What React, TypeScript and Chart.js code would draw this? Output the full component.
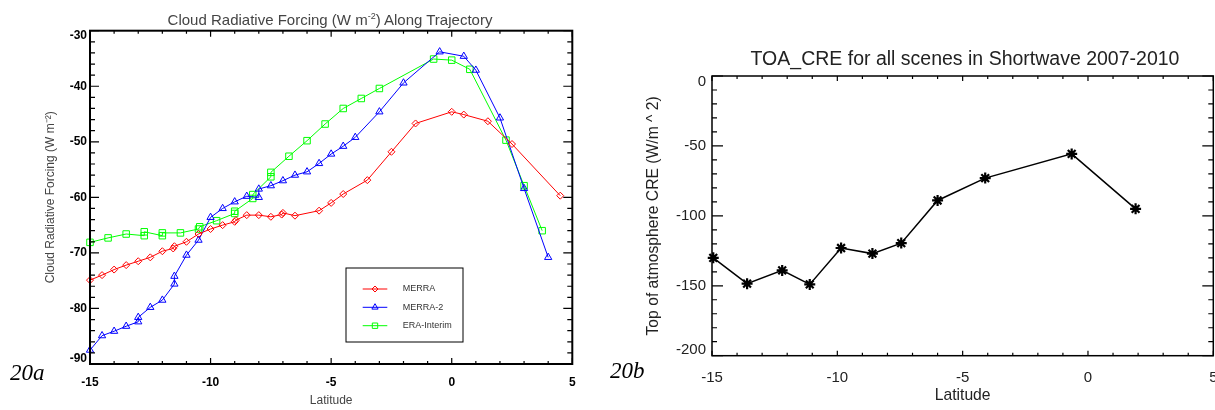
import React, { useEffect, useRef } from "react";
import { Chart, registerables } from "chart.js";
Chart.register(...registerables);

const SANS = '"Liberation Sans", Arial, Helvetica, sans-serif';
const SERIF = '"Liberation Serif", "Times New Roman", serif';

// ---------- Panel 20a : Cloud Radiative Forcing along trajectory ----------
const merraLat = [-15, -14.5, -14, -13.5, -13, -12.5, -12, -11.55, -11.5, -11, -10.5, -10, -9.5, -9, -8.95, -8.5, -8, -7.5, -7.05, -7, -6.5, -5.5, -5, -4.5, -3.5, -2.5, -1.5, 0, 0.5, 1.5, 2.5, 4.5];
const merraVal = [-74.9, -74.0, -73.0, -72.2, -71.5, -70.8, -69.7, -69.2, -68.8, -68.0, -66.6, -65.7, -65.0, -64.4, -64.1, -63.2, -63.2, -63.5, -63.1, -62.8, -63.3, -62.4, -61.0, -59.4, -56.9, -51.8, -46.7, -44.6, -45.1, -46.3, -50.4, -59.7];

const merra2Lat = [-15, -14.5, -14, -13.5, -13, -13, -12.5, -12, -11.5, -11.5, -11, -10.5, -10, -9.5, -9, -8.5, -8, -8, -7.5, -7, -6.5, -6, -5.5, -5, -4.5, -4, -3, -2, -0.5, 0.5, 1, 2, 3, 4];
const merra2Val = [-87.5, -84.9, -84.1, -83.2, -82.4, -81.6, -79.8, -78.5, -75.6, -74.2, -70.4, -67.7, -63.6, -62.0, -60.8, -59.8, -60.0, -58.5, -57.9, -57.0, -56.0, -55.4, -53.9, -52.2, -50.8, -49.2, -44.6, -39.4, -33.8, -34.6, -37.1, -45.7, -58.4, -70.8];

const eraLat = [-15, -14.25, -13.5, -12.75, -12.75, -12, -12, -11.25, -10.5, -10.45, -9.75, -9, -9, -8.25, -8.25, -7.5, -7.5, -6.75, -6, -5.25, -4.5, -3.75, -3, -0.75, 0, 0.75, 2.25, 3, 3.75];
const eraVal = [-68.1, -67.3, -66.6, -66.9, -66.2, -66.9, -66.4, -66.4, -65.7, -65.3, -64.2, -62.9, -62.5, -60.2, -59.5, -56.3, -55.5, -52.6, -49.8, -46.8, -44.0, -42.2, -40.4, -35.1, -35.3, -36.95, -49.7, -57.9, -66.0];

const leftXTicks = [-15, -10, -5, 0, 5];
const leftYTicks = [-90, -80, -70, -60, -50, -40, -30];

// ---------- Panel 20b : TOA CRE shortwave ----------
const toaLat = [-14.95, -13.6, -12.2, -11.1, -9.85, -8.6, -7.45, -6.0, -4.1, -0.65, 1.9];
const toaCre = [-130, -148.5, -139, -149, -123, -127, -119.5, -89, -73, -55.7, -95];

const rightXTicks = [-15, -10, -5, 0, 5];
const rightYTicks = [-200, -150, -100, -50, 0];

const pts = (xs: number[], ys: number[]) => xs.map((x, i) => ({ x, y: ys[i] }));

// IDL keeps the end labels of a vertical axis inside the axis range
const endLabel = (min: number, max: number) => (value: number) => {
  const t = String(value);
  if (value === max) return ["", t];
  if (value === min) return [t, ""];
  return t;
};

function markerPath(ctx: CanvasRenderingContext2D, style: string, x: number, y: number, r: number) {
  ctx.beginPath();
  if (style === "rectRot") {
    ctx.moveTo(x - r, y);
    ctx.lineTo(x, y - r);
    ctx.lineTo(x + r, y);
    ctx.lineTo(x, y + r);
    ctx.closePath();
  } else if (style === "triangle") {
    ctx.moveTo(x, y - r);
    ctx.lineTo(x + r * 0.866, y + r * 0.5);
    ctx.lineTo(x - r * 0.866, y + r * 0.5);
    ctx.closePath();
  } else {
    ctx.rect(x - r, y - r, 2 * r, 2 * r);
  }
}

const idlFrame = {
  id: "idlFrame",
  afterDatasetsDraw(chart: any, _args: any, o: any) {
    const { ctx, chartArea: a } = chart;
    const xs = chart.scales.x;
    const ys = chart.scales.y;
    ctx.save();
    ctx.strokeStyle = "#000";
    ctx.lineWidth = o.tickWidth;
    ctx.beginPath();
    const nx = Math.round((xs.max - xs.min) / o.xMinor);
    for (let i = 0; i <= nx; i++) {
      const v = xs.min + i * o.xMinor;
      const major = Math.abs(v / o.xMajor - Math.round(v / o.xMajor)) < 1e-6;
      const len = major ? o.xMajorLen : o.xMinorLen;
      const p = xs.getPixelForValue(v);
      ctx.moveTo(p, a.bottom);
      ctx.lineTo(p, a.bottom - len);
      ctx.moveTo(p, a.top);
      ctx.lineTo(p, a.top + len);
    }
    const ny = Math.round((ys.max - ys.min) / o.yMinor);
    for (let i = 0; i <= ny; i++) {
      const v = ys.min + i * o.yMinor;
      const major = Math.abs(v / o.yMajor - Math.round(v / o.yMajor)) < 1e-6;
      const len = major ? o.yMajorLen : o.yMinorLen;
      const p = ys.getPixelForValue(v);
      ctx.moveTo(a.left, p);
      ctx.lineTo(a.left + len, p);
      ctx.moveTo(a.right, p);
      ctx.lineTo(a.right - len, p);
    }
    ctx.stroke();
    ctx.lineWidth = o.frameWidth;
    ctx.strokeRect(a.left, a.top, a.right - a.left, a.bottom - a.top);

    if (o.legend) {
      const L = o.legend;
      ctx.lineWidth = 1;
      ctx.strokeStyle = "#000";
      ctx.strokeRect(L.x, L.y, L.w, L.h);
      chart.data.datasets.forEach((ds: any, i: number) => {
        const yy = L.rowY[i];
        ctx.strokeStyle = ds.borderColor;
        ctx.lineWidth = 1;
        ctx.beginPath();
        ctx.moveTo(L.lineX0, yy);
        ctx.lineTo(L.lineX1, yy);
        ctx.stroke();
        markerPath(ctx, ds.pointStyle, (L.lineX0 + L.lineX1) / 2, yy, L.r[i]);
        ctx.stroke();
        ctx.fillStyle = L.color;
        ctx.font = L.font;
        ctx.textBaseline = "middle";
        ctx.textAlign = "left";
        ctx.fillText(ds.label, L.textX, yy);
      });
    }
    ctx.restore();
  },
};

function makeLeftConfig(): any {
  return {
    type: "scatter",
    data: {
      datasets: [
        {
          label: "MERRA",
          data: pts(merraLat, merraVal),
          showLine: true,
          borderColor: "#ff0000",
          borderWidth: 1,
          pointStyle: "rectRot",
          pointRadius: 3.5,
          pointBorderWidth: 1,
          pointBorderColor: "#ff0000",
          pointBackgroundColor: "rgba(0,0,0,0)",
          clip: false,
        },
        {
          label: "MERRA-2",
          data: pts(merra2Lat, merra2Val),
          showLine: true,
          borderColor: "#0000ff",
          borderWidth: 1,
          pointStyle: "triangle",
          pointRadius: 4.2,
          pointBorderWidth: 1,
          pointBorderColor: "#0000ff",
          pointBackgroundColor: "rgba(0,0,0,0)",
          clip: false,
        },
        {
          label: "ERA-Interim",
          data: pts(eraLat, eraVal),
          showLine: true,
          borderColor: "#00ff00",
          borderWidth: 1,
          pointStyle: "rect",
          pointRadius: 4.6,
          pointBorderWidth: 1,
          pointBorderColor: "#00ff00",
          pointBackgroundColor: "rgba(0,0,0,0)",
          clip: false,
        },
      ],
    },
    options: {
      responsive: false,
      animation: false,
      events: [],
      layout: { padding: { left: 0, top: 30.7, right: 27.7, bottom: 0 } },
      plugins: {
        legend: { display: false },
        tooltip: { enabled: false },
        title: { display: false },
        idlFrame: {
          tickWidth: 1.2,
          frameWidth: 2,
          xMajor: 5, xMinor: 1, xMajorLen: 6, xMinorLen: 3,
          yMajor: 10, yMinor: 2, yMajorLen: 9, yMinorLen: 5,
          legend: {
            x: 346, y: 268, w: 117, h: 74,
            rowY: [289, 307.3, 325.7],
            lineX0: 362.7, lineX1: 387.3,
            r: [3, 3.6, 2.7],
            textX: 402.7,
            font: `9px ${SANS}`,
            color: "#333",
          },
        },
      },
      scales: {
        x: {
          type: "linear",
          min: -15,
          max: 5,
          afterBuildTicks: (s: any) => { s.ticks = leftXTicks.map((v) => ({ value: v })); },
          afterFit: (s: any) => { s.height = 46; },
          grid: { display: false, drawTicks: false },
          border: { display: false },
          ticks: { color: "#000", font: { family: SANS, size: 12, weight: "bold" }, padding: 11.5, maxRotation: 0 },
          title: { display: true, text: "Latitude", color: "#444", font: { family: SANS, size: 12 }, padding: { top: 0, bottom: 2 } },
        },
        y: {
          type: "linear",
          min: -90,
          max: -30,
          afterBuildTicks: (s: any) => { s.ticks = leftYTicks.map((v) => ({ value: v })); },
          afterFit: (s: any) => { s.width = 90; },
          grid: { display: false, drawTicks: false },
          border: { display: false },
          ticks: {
            color: "#000",
            font: { family: SANS, size: 12, weight: "bold", lineHeight: 0.85 },
            padding: 3,
            callback: endLabel(-90, -30),
          },
          title: { display: true, text: "Cloud Radiative Forcing (W m\u207B\u00B2)", color: "#444", font: { family: SANS, size: 12 }, padding: { top: 43, bottom: 0 } },
        },
      },
    },
    plugins: [idlFrame],
  };
}

function makeRightConfig(): any {
  return {
    type: "scatter",
    data: {
      datasets: [
        {
          label: "TOA_CRE",
          data: pts(toaLat, toaCre),
          showLine: true,
          borderColor: "#000",
          borderWidth: 1.5,
          pointStyle: "star",
          pointRadius: 5.5,
          pointBorderWidth: 2.2,
          pointBorderColor: "#000",
          pointBackgroundColor: "#000",
          clip: false,
        },
      ],
    },
    options: {
      responsive: false,
      animation: false,
      events: [],
      layout: { padding: { left: 0, top: 76, right: 26.7, bottom: 0 } },
      plugins: {
        legend: { display: false },
        tooltip: { enabled: false },
        title: { display: false },
        idlFrame: {
          tickWidth: 1.2,
          frameWidth: 1.5,
          xMajor: 5, xMinor: 1, xMajorLen: 5, xMinorLen: 3,
          yMajor: 50, yMinor: 10, yMajorLen: 11, yMinorLen: 5,
        },
      },
      scales: {
        x: {
          type: "linear",
          min: -15,
          max: 5,
          afterBuildTicks: (s: any) => { s.ticks = rightXTicks.map((v) => ({ value: v })); },
          afterFit: (s: any) => { s.height = 54.3; },
          grid: { display: false, drawTicks: false },
          border: { display: false },
          ticks: { color: "#222", font: { family: SANS, size: 15 }, padding: 13.6, maxRotation: 0 },
          title: { display: true, text: "Latitude", color: "#222", font: { family: SANS, size: 15.7 }, padding: { top: 0, bottom: 5 } },
        },
        y: {
          type: "linear",
          min: -200,
          max: 0,
          afterBuildTicks: (s: any) => { s.ticks = rightYTicks.map((v) => ({ value: v })); },
          afterFit: (s: any) => { s.width = 112; },
          grid: { display: false, drawTicks: false },
          border: { display: false },
          ticks: {
            color: "#222",
            font: { family: SANS, size: 15, lineHeight: 0.8 },
            padding: 6,
            callback: endLabel(-200, 0),
          },
          title: { display: true, text: "Top of atmosphere CRE (W/m ^ 2)", color: "#222", font: { family: SANS, size: 15.7 }, padding: { top: 44, bottom: 0 } },
        },
      },
    },
    plugins: [idlFrame],
  };
}

function ChartCanvas(props: { make: () => any; left: number; width: number }) {
  const ref = useRef<HTMLCanvasElement | null>(null);
  useEffect(() => {
    const chart = new Chart(ref.current as HTMLCanvasElement, props.make());
    return () => chart.destroy();
  }, []);
  return (
    <canvas
      ref={ref}
      width={props.width}
      height={410}
      style={{ position: "absolute", left: props.left, top: 0, width: props.width, height: 410 }}
    />
  );
}

export default function App() {
  return (
    <div
      style={{
        position: "absolute",
        left: 0,
        top: 0,
        width: 1215,
        height: 410,
        overflow: "hidden",
        background: "#fff",
      }}
    >
      <ChartCanvas make={makeLeftConfig} left={0} width={600} />
      <ChartCanvas make={makeRightConfig} left={600} width={640} />
      <div
        style={{
          position: "absolute",
          left: 30,
          top: 7,
          width: 600,
          textAlign: "center",
          fontFamily: SANS,
          fontSize: 15,
          lineHeight: "18px",
          color: "#444",
          whiteSpace: "nowrap",
        }}
      >
        Cloud Radiative Forcing (W m
        <span style={{ fontSize: 9, verticalAlign: "6px" }}>-2</span>) Along Trajectory
      </div>
      <div
        style={{
          position: "absolute",
          left: 665,
          top: 46.5,
          width: 600,
          textAlign: "center",
          fontFamily: SANS,
          fontSize: 19.5,
          lineHeight: "23px",
          color: "#222",
          whiteSpace: "nowrap",
        }}
      >
        TOA_CRE for all scenes in Shortwave 2007-2010
      </div>
      <div
        style={{
          position: "absolute",
          left: 10,
          top: 360.8,
          fontFamily: SERIF,
          fontStyle: "italic",
          fontSize: 23,
          lineHeight: "23px",
          color: "#000",
        }}
      >
        20a
      </div>
      <div
        style={{
          position: "absolute",
          left: 610,
          top: 358.8,
          fontFamily: SERIF,
          fontStyle: "italic",
          fontSize: 23,
          lineHeight: "23px",
          color: "#000",
        }}
      >
        20b
      </div>
    </div>
  );
}
